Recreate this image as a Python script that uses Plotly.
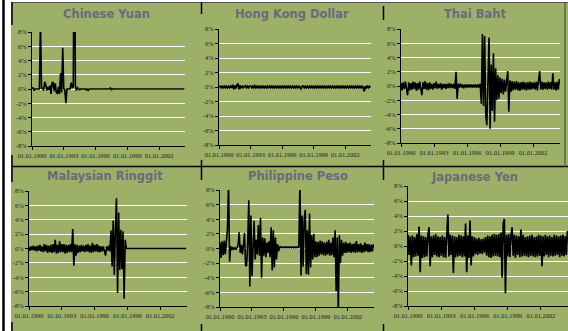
import plotly.graph_objects as go

# ---------------- data (daily-return style series, sampled every 0.1 year) ----------------
START_YEAR = 1990.0
STEP = 0.1

titles = ["Chinese Yuan", "Hong Kong Dollar", "Thai Baht",
          "Malaysian Ringgit", "Philippine Peso", "Japanese Yen"]

tick_years = [1990, 1993, 1996, 1999, 2002]
tick_text = ["01.01.1990", "01.01.1993", "01.01.1996", "01.01.1999", "01.01.2002"]
y_ticks = [8, 6, 4, 2, 0, -2, -4, -6, -8]
y_text = ["8%", "6%", "4%", "2%", "0%", "-2%", "-4%", "-6%", "-8%"]

cny = [0, 0.2, -0.2, 0, 0, 0, 0, 0, 9.6, 0.1,
       0.1, -0.2, 1.0, 0.6, -0.2, 0.3, -0.1, 0.5, -0.7, 0.9,
       0.9, -0.3, 0.8, -0.5, -0.6, 0.3, -0.7, 2.2, -0.5, 5.8,
       0, -0.1, -2.0, 0, 0, 0, 0, 0.9, 0.2, 0.3,
       30, 0.3, -0.2, 0.2, 0.1, -0.1, 0, 0, 0.1, 0,
       0, -0.1, 0, -0.2, 0, 0, 0, 0, 0, 0,
       0, 0, 0, 0, 0, 0, 0, 0.1, 0, 0,
       0, 0, 0, 0, 0.15, -0.1, 0, 0, 0, 0,
       0, 0, 0, 0, 0, 0, 0, 0, 0, 0,
       0, 0, 0, 0, 0, 0, 0, 0, 0, 0,
       0, 0, 0, 0, 0, 0, 0, 0, 0, 0,
       0, 0, 0, 0, 0, 0, 0, 0, 0, 0,
       0, 0, 0, 0, 0, 0, 0, 0, 0, 0,
       0, 0, 0, 0, 0, 0, 0, 0, 0, 0,
       0, 0, 0, 0, 0]

hkd = [0, 0.1, -0.1, 0.1, -0.1, 0.1, -0.1, 0.1, -0.1, 0.1,
       -0.1, 0.1, -0.1, 0.3, -0.3, 0.2, -0.2, 0.3, 0.5, -0.3,
       0.2, -0.1, 0.1, -0.1, 0.1, 0.15, -0.1, 0.1, -0.1, 0.1,
       0.1, -0.1, 0.1, -0.1, 0.15, -0.1, 0.1, -0.1, 0.1, -0.1,
       0.1, -0.1, 0.1, -0.1, 0.1, -0.1, 0.1, -0.15, 0.1, -0.1,
       0.1, -0.1, 0.1, -0.1, 0.1, -0.1, 0.1, -0.1, 0.1, -0.1,
       0.1, -0.1, 0.1, -0.1, 0.1, -0.1, 0.1, -0.1, 0.1, -0.1,
       0.1, -0.1, 0.1, -0.1, 0.1, -0.1, 0.1, -0.1, -0.25, 0.1,
       0.1, -0.1, 0.1, -0.1, 0.1, -0.1, 0.1, -0.1, 0.1, -0.1,
       0.1, -0.1, 0.1, -0.1, 0.1, -0.1, 0.1, -0.1, 0.1, -0.1,
       0.1, -0.1, 0.1, -0.1, 0.1, -0.1, 0.1, -0.1, 0.1, -0.1,
       0.1, -0.1, 0.1, -0.1, 0.1, -0.1, 0.1, -0.1, 0.1, -0.1,
       0.1, -0.1, 0.1, -0.1, 0.1, -0.1, 0.1, -0.1, 0.1, -0.1,
       0.1, -0.1, 0.1, -0.1, 0.1, -0.1, 0.1, -0.1, -0.6, 0.1,
       -0.1, 0.1, -0.1, 0.1, -0.1]

thb = [0.4, -0.6, 0.5, -0.4, 0.6, -0.5, -1.3, 0.5, -0.6, 0.4,
       -0.5, 0.6, -0.4, 0.5, -0.7, 0.4, -0.5, 0.6, -0.4, -1.3,
       0.5, -0.4, 0.7, -0.5, 0.4, -0.6, 0.5, -0.4, 0.3, -0.5,
       0.4, -0.3, 0.6, -0.4, 0.3, -0.3, 0.4, -0.5, 0.3, -0.3,
       0.3, -0.4, 0.3, -0.3, 0.4, -0.3, 0.3, -0.3, 0.3, -0.4,
       2.0, -1.8, 0.3, -0.2, 0.3, -0.2, 0.2, -0.3, 0.2, -0.2,
       0.2, -0.2, 0.2, -0.2, 0.2, -0.2, 0.2, -0.2, 0.2, -0.2,
       0.2, -0.2, 0.3, -2.5, 7.3, -2.8, 7.0, -4.0, -5.5, 3.5,
       6.8, -6.0, 3.0, -3.5, 4.6, -5.0, 2.5, -2.0, 1.5, -1.8,
       1.2, -1.0, 1.0, -1.2, 0.9, -0.8, 1.0, 2.1, -3.6, 0.8,
       -0.8, 0.7, -0.6, 0.6, -0.5, 0.7, -0.6, 0.5, -0.7, 0.5,
       -0.5, 0.6, -0.5, 0.5, -0.6, 0.5, -0.5, 0.6, -0.5, 0.5,
       -0.4, 0.5, -0.5, 0.6, -0.6, 0.5, 2.1, -0.5, 0.6, -0.5,
       0.5, -0.4, 0.5, -0.5, 0.6, -0.4, 0.5, -0.5, 1.8, -0.5,
       0.5, -0.6, 0.6, -0.5, 1.0]

myr = [0.2, -0.3, 0.3, -0.2, 0.4, -0.3, 0.3, -0.4, 0.4, -0.3,
       0.5, -0.4, 0.3, -0.5, 0.6, -0.4, 0.5, -0.6, 0.4, -0.5,
       0.5, -0.6, 0.6, -0.5, 1.2, -0.7, 0.5, -0.6, 1.0, -0.5,
       0.6, -0.5, 0.6, -0.7, 0.5, -0.6, 0.5, -0.5, 0.6, -0.5,
       2.7, -2.4, 0.6, -1.0, 0.5, -0.6, 0.4, -0.5, 0.5, -0.4,
       0.4, -0.5, 0.5, -0.4, 0.6, -0.5, 0.4, -0.6, 0.8, -0.5,
       0.5, -0.4, 0.6, -0.5, 0.4, -0.5, 0.3, -0.4, 0.3, -0.3,
       -1.0, 0.3, -0.3, 0.4, -0.4, 2.5, -2.5, 3.9, -3.7, 2.6,
       7.0, -6.2, 5.0, -3.0, 2.6, -2.9, 2.4, -7.0, 1.2, 0,
       0, 0, 0, 0, 0, 0, 0, 0, 0, 0,
       0, 0, 0, 0, 0, 0, 0, 0, 0, 0,
       0, 0, 0, 0, 0, 0, 0, 0, 0, 0,
       0, 0, 0, 0, 0, 0, 0, 0, 0, 0,
       0, 0, 0, 0, 0, 0, 0, 0, 0, 0,
       0, 0, 0, 0, 0]

php = [0.8, -1.3, 1.0, -0.9, 1.1, -0.8, 0.9, 2.7, 9.0, -1.8,
       0.3, -0.2, 0.1, -0.1, 0.1, -0.1, 0.1, 0.5, 2.2, -0.6,
       0.5, -0.8, 0.4, 2.1, -2.4, -2.3, 0.8, 6.6, -5.2, 4.5,
       -3.8, 0.8, 3.8, -1.5, 1.2, -0.8, 3.2, -1.0, 4.2, -4.0,
       1.5, -1.0, 1.4, -1.2, 0.8, -0.6, 1.0, -1.2, 2.9, -3.0,
       2.5, -2.6, 1.5, -1.5, 0.6, -0.4, 0.3, 0.1, 0.2, 0.1,
       0.2, 0.1, 0.2, 0.1, 0.2, 0.1, 0.2, 0.1, 0.2, 0.1,
       0.2, 0.1, 0.2, 0.1, 0.2, 9.0, -3.7, 4.5, -2.5, 4.0,
       5.3, -3.5, 2.5, -3.6, 4.8, -2.6, 1.8, -1.5, 2.0, -1.2,
       1.0, -1.2, 0.9, -1.0, 1.1, -0.8, 1.0, -0.9, 0.8, -1.0,
       0.9, -0.8, 1.2, -1.0, 0.8, -0.9, 1.5, -1.2, 2.5, -5.8,
       1.5, -9.0, 1.8, -2.0, 1.2, -1.0, 0.8, -0.6, 0.9, -0.6,
       0.7, -0.5, 0.8, -0.6, 0.6, -0.5, 0.7, -0.6, 1.0, -0.5,
       0.6, -0.5, 0.7, -0.6, 0.5, -0.5, 0.8, -0.4, 0.6, -0.5,
       0.6, -0.5, 0.5, -0.4, 0.6]

jpy = [1.5, -1.2, 1.3, -2.6, 1.4, -1.5, 1.2, -1.4, 1.6, -1.3,
       2.6, -3.5, 1.4, -1.6, 1.3, -1.5, 1.2, -1.4, 1.5, 2.5,
       -2.7, 1.3, -1.5, 1.4, -1.2, 1.6, -1.4, 1.3, -1.5, 1.2,
       -1.3, 1.4, -1.5, 1.2, -1.6, 1.3, 4.2, -1.4, 1.5, -1.2,
       1.4, -3.6, 1.3, -1.5, 1.2, -1.4, 1.5, -1.3, 1.4, -1.5,
       1.3, -1.4, 3.0, -3.5, 1.4, -1.6, 3.4, -2.6, 1.3, -1.4,
       1.2, -1.1, 1.0, -1.2, 1.1, -1.0, 0.9, -1.1, 1.0, -0.9,
       1.2, -1.3, 1.4, -1.5, 1.3, -1.6, 1.5, -1.4, 1.6, -1.3,
       1.5, -1.4, 1.6, -1.5, 1.8, -4.2, 3.0, 3.6, -6.3, 1.5,
       -1.4, 1.6, -1.5, 1.4, 2.5, -1.3, 1.5, -1.6, 1.4, -1.2,
       1.3, -1.5, 2.2, -1.4, 1.5, -1.3, 1.2, -1.4, 1.3, -1.5,
       1.4, -1.3, 1.5, -1.4, 1.2, -1.5, 1.3, -1.4, 1.5, -1.3,
       1.4, -2.7, 1.3, -1.4, 1.5, -1.2, 1.3, -1.5, 1.4, -1.3,
       1.2, -1.4, 1.5, -1.3, 1.4, -1.2, 1.3, -1.5, 1.4, -1.3,
       1.5, -1.4, 1.3, -1.2, 2.0]

series = [cny, hkd, thb, myr, php, jpy]

# ---------------- layout geometry (pixels) ----------------
W, H = 568, 331
# plot-area boxes: x0, x1, y_top, y_bottom
boxes = [(32, 185, 32, 146), (219, 371, 29, 145), (401, 560, 29, 143),
         (29, 187, 191, 306), (220, 374, 190, 307), (408, 568, 186, 306)]
title_pos = [(106, 14), (292, 14), (475, 14), (105, 176), (298, 176), (474, 177)]
line_widths = [1.6, 1.8, 1.6, 1.6, 1.6, 1.7]

BG = "#9CB068"
TITLE_C = "#6A6A7C"

fig = go.Figure()
layout = dict(width=W, height=H,
              margin=dict(l=0, r=0, t=0, b=0, pad=0, autoexpand=False),
              paper_bgcolor=BG, plot_bgcolor=BG, showlegend=False)

for i, (vals, box) in enumerate(zip(series, boxes)):
    n = i + 1
    xs = [START_YEAR + STEP * k for k in range(len(vals))]
    fig.add_trace(go.Scatter(x=xs, y=vals, mode="lines",
                             line=dict(color="black", width=line_widths[i]),
                             xaxis="x%d" % n, yaxis="y%d" % n, hoverinfo="skip"))
    x0, x1, yt, yb = box
    xa = dict(domain=[x0 / W, x1 / W], range=[1990, 2004.45], anchor="y%d" % n,
              tickvals=tick_years, ticktext=tick_text, ticks="outside", ticklen=3,
              tickangle=0, automargin=False,
              tickcolor="black", showline=True, linecolor="black", linewidth=1,
              showgrid=False, zeroline=False,
              tickfont=dict(family="Liberation Serif", size=6.4, color="#222222"))
    ya = dict(domain=[1 - yb / H, 1 - yt / H], range=[-8, 8], anchor="x%d" % n,
              tickvals=y_ticks, ticktext=y_text, ticks="outside", ticklen=3,
              automargin=False,
              tickcolor="black", showline=True, linecolor="black", linewidth=1,
              showgrid=True, gridcolor="white", gridwidth=1.3, zeroline=False,
              tickfont=dict(family="Liberation Serif", size=6.5, color="#222222"))
    layout["xaxis%d" % n] = xa
    layout["yaxis%d" % n] = ya

annotations = []
for t, (tx, ty) in zip(titles, title_pos):
    annotations.append(dict(text="<b>%s</b>" % t, x=tx / W, y=1 - ty / H,
                            xref="paper", yref="paper", showarrow=False,
                            xanchor="center", yanchor="middle",
                            font=dict(family="DejaVu Sans", size=11.5, color=TITLE_C)))
layout["annotations"] = annotations


def px_line(xa, ya, xb, yb, color="black", width=1.5):
    return dict(type="line", xref="paper", yref="paper",
                x0=xa / W, y0=1 - ya / H, x1=xb / W, y1=1 - yb / H,
                line=dict(color=color, width=width), layer="above")


shapes = [
    dict(type="rect", xref="paper", yref="paper", x0=0, x1=11 / W, y0=0, y1=1,
         fillcolor="white", line=dict(width=0), layer="above"),
    dict(type="rect", xref="paper", yref="paper", x0=0, x1=1, y0=1 - 2 / H, y1=1,
         fillcolor="white", line=dict(width=0), layer="above"),
    px_line(3.5, 0, 3.5, 331, "black", 2.5),
    px_line(12, 2.5, 568, 2.5, "#555555", 1),
    px_line(12, 166.5, 568, 166.5, "black", 1.5),
    px_line(12, 2, 12, 25), px_line(12, 155, 12, 182), px_line(12, 322, 12, 331),
    px_line(201.5, 2, 201.5, 14), px_line(201.5, 160, 201.5, 180), px_line(201.5, 324, 201.5, 331),
    px_line(383.5, 6, 383.5, 20), px_line(383.5, 160, 383.5, 180), px_line(383.5, 324, 383.5, 331),
    px_line(565, 2, 565, 167, "#4a5a30", 1.2),
]
layout["shapes"] = shapes

fig.update_layout(**layout)
fig.write_html("out.html")
